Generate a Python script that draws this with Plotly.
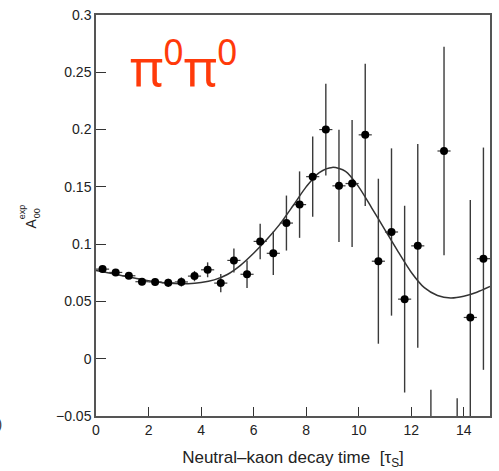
import plotly.graph_objects as go

# Measured asymmetry per 0.5-tau_S bin
bin_centers = [0.25, 0.75, 1.25, 1.75, 2.25, 2.75, 3.25, 3.75, 4.25, 4.75,
               5.25, 5.75, 6.25, 6.75, 7.25, 7.75, 8.25, 8.75, 9.25, 9.75,
               10.25, 10.75, 11.25, 11.75, 12.25, 12.75, 13.25, 13.75, 14.25, 14.75]
asym = [0.0782, 0.0753, 0.0724, 0.0672, 0.0670, 0.0662, 0.0670, 0.0721, 0.0776, 0.0660,
        0.0858, 0.0737, 0.1024, 0.0920, 0.1184, 0.1345, 0.1589, 0.2000, 0.1509, 0.1529,
        0.1954, 0.0851, 0.1106, 0.0520, 0.0985, -0.125, 0.1813, -0.150, 0.0360, 0.0873]
asym_err = [0.002, 0.002, 0.0025, 0.003, 0.003, 0.0035, 0.004, 0.0045, 0.0065, 0.008,
            0.0105, 0.012, 0.0155, 0.019, 0.024, 0.029, 0.035, 0.040, 0.049, 0.0555,
            0.062, 0.072, 0.073, 0.0815, 0.089, 0.098, 0.091, 0.1155, 0.1025, 0.097]
bin_half_width = [0.25] * len(bin_centers)

# Fitted curve
fit_t = [0, 0.5, 1, 1.5, 2, 2.5, 3, 3.5, 4, 4.5, 5, 5.5, 6, 6.5, 7, 7.5, 8, 8.5,
         9, 9.5, 10, 10.5, 11, 11.5, 12, 12.5, 13, 13.5, 14, 14.5, 15]
fit_a = [0.077, 0.0748, 0.0725, 0.0702, 0.068, 0.0665, 0.0656, 0.0655, 0.0665, 0.0688,
         0.0735, 0.0815, 0.0920, 0.1040, 0.1175, 0.1335, 0.1500, 0.1625, 0.1670, 0.1635,
         0.1500, 0.1315, 0.1125, 0.0935, 0.0755, 0.0620, 0.0552, 0.0530, 0.0545, 0.0580,
         0.0630]

font_fam = "Liberation Sans, Arial, sans-serif"

fig = go.Figure()
fig.add_trace(go.Scatter(
    x=fit_t, y=fit_a, mode="lines",
    line=dict(color="#333333", width=1.5, shape="spline", smoothing=0.8),
    hoverinfo="skip", showlegend=False,
))
fig.add_trace(go.Scatter(
    x=bin_centers, y=asym, mode="markers",
    marker=dict(color="black", size=8, symbol="circle"),
    error_y=dict(type="data", array=asym_err, color="#3a3a3a", thickness=1.4, width=0),
    error_x=dict(type="data", array=bin_half_width, color="#3a3a3a", thickness=1.2, width=0),
    showlegend=False,
))

axis_common = dict(
    showline=True, linecolor="#555555", linewidth=1.5, mirror=True,
    ticks="inside", tickcolor="#333333", tickwidth=1.2,
    showgrid=False, zeroline=False,
    tickfont=dict(family=font_fam, size=14, color="#222222"),
)

fig.update_layout(
    width=499, height=471,
    margin=dict(l=96, r=7, t=9, b=54),
    paper_bgcolor="white", plot_bgcolor="white",
    xaxis=dict(range=[0, 15], dtick=2, ticklen=9, **axis_common,
               title=dict(text="Neutral\u2013kaon decay time  [\u03c4<sub>S</sub>]",
                          font=dict(family=font_fam, size=17, color="#222222"),
                          standoff=15)),
    yaxis=dict(range=[-0.05, 0.3], dtick=0.05, ticklen=10, **axis_common),
    annotations=[
        dict(text="\u03c0<sup>0</sup>\u03c0<sup>0</sup>", xref="x", yref="y",
             x=1.2, y=0.257, xanchor="left", yanchor="middle", showarrow=False,
             font=dict(family="Noto Sans, sans-serif", size=51, color="#ff3a0a")),
        dict(text="A", xref="paper", yref="paper", x=-0.165, y=0.48,
             xanchor="center", yanchor="middle", textangle=-90, showarrow=False,
             font=dict(family=font_fam, size=14, color="#222222")),
        dict(text="00", xref="paper", yref="paper", x=-0.148, y=0.505,
             xanchor="center", yanchor="middle", textangle=-90, showarrow=False,
             font=dict(family=font_fam, size=9, color="#222222")),
        dict(text="exp", xref="paper", yref="paper", x=-0.186, y=0.51,
             xanchor="center", yanchor="middle", textangle=-90, showarrow=False,
             font=dict(family=font_fam, size=9, color="#222222")),
        dict(text="(b)", xref="paper", yref="paper", x=-0.233, y=-0.02,
             xanchor="right", yanchor="middle", showarrow=False,
             font=dict(family=font_fam, size=14, color="#333333")),
    ],
)

fig.write_html("out.html")
